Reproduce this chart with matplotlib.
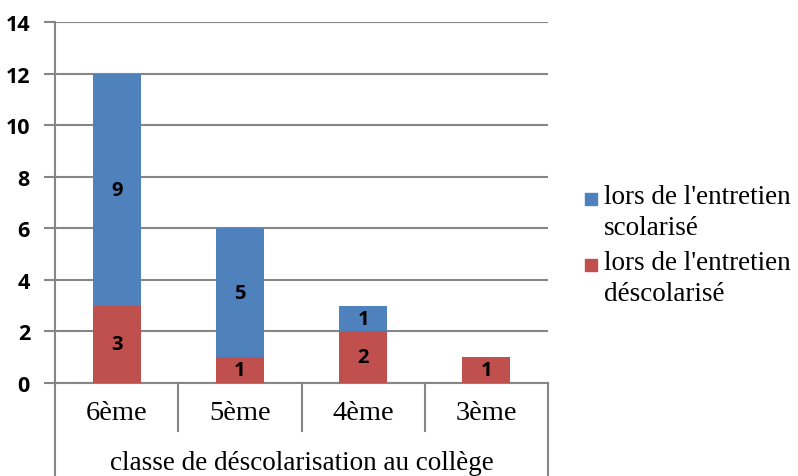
import matplotlib.pyplot as plt
from matplotlib.patches import Rectangle
import numpy as np

categories = ['6ème', '5ème', '4ème', '3ème']
descolarise = [3, 1, 2, 1]
scolarise = [9, 5, 1, 0]
axis_title = 'classe de déscolarisation au collège'
legend_labels = ["lors de l'entretien\nscolarisé", "lors de l'entretien\ndéscolarisé"]

blue = '#4F81BD'
red = '#C0504D'
grid_col = '#868686'

fig = plt.figure(figsize=(7.98, 4.77), dpi=100)
W, H = 798, 477
x0, x1, y0, y1 = 55, 548, 384, 23
ax = fig.add_axes([x0 / W, 1 - y0 / H, (x1 - x0) / W, (y0 - y1) / H])

x = np.arange(len(categories))
bw = 0.39
b1 = ax.bar(x, descolarise, bw, color=red, zorder=3)
b2 = ax.bar(x, scolarise, bw, bottom=descolarise, color=blue, zorder=3)

for bars, vals, bottoms in [(b1, descolarise, [0] * 4), (b2, scolarise, descolarise)]:
    for rect, v, b in zip(bars, vals, bottoms):
        if v > 0:
            ax.text(rect.get_x() + rect.get_width() / 2, b + v / 2, str(v),
                    ha='center', va='center', fontsize=14.5, fontweight='bold',
                    family='Open Sans', zorder=4)

ax.set_xlim(-0.5, len(categories) - 0.5)
ax.set_ylim(0, 14)
ax.set_yticks(range(0, 15, 2))
ax.set_yticklabels([str(v) for v in range(0, 15, 2)], fontsize=15.5, fontweight='bold', family='Open Sans')
ax.tick_params(axis='y', length=8, width=1.5, color=grid_col, pad=10)
ax.set_xticks([])
ax.grid(axis='y', color=grid_col, linewidth=1.5, zorder=0)
ax.set_axisbelow(True)
for s in ['top', 'right']:
    ax.spines[s].set_visible(False)
for s in ['left', 'bottom']:
    ax.spines[s].set_color(grid_col)
    ax.spines[s].set_linewidth(1.5)

# multi-level category axis drawn below the plot
trans = ax.get_xaxis_transform()
ph = y0 - y1
row1 = -48 / ph
bottom = -(H - y0) / ph
for i in range(1, len(categories)):
    ax.plot([i - 0.5, i - 0.5], [0, row1], color=grid_col, lw=1.5, transform=trans, clip_on=False)
for xe in [-0.5, len(categories) - 0.5]:
    ax.plot([xe, xe], [0, bottom], color=grid_col, lw=1.5, transform=trans, clip_on=False)
for i, c in enumerate(categories):
    ax.text(i, -30 / ph, c, ha='center', va='center', fontsize=20.5,
            family='Liberation Serif', transform=trans)
ax.text((len(categories) - 1) / 2, -80 / ph, axis_title, ha='center', va='center',
        fontsize=19.5, family='Liberation Serif', transform=trans)

# legend: square aligned with first line of each two-line label
for lab, col, ytop in [(legend_labels[0], blue, 200), (legend_labels[1], red, 266)]:
    fig.patches.append(Rectangle((585 / W, 1 - (ytop + 6) / H), 12 / W, 12 / H,
                                 color=col, transform=fig.transFigure, figure=fig))
    fig.text(604 / W, 1 - (ytop - 15) / H, lab, ha='left', va='top', fontsize=19.5,
             family='Liberation Serif', linespacing=1.3)

fig.savefig('out.png', dpi=100)
